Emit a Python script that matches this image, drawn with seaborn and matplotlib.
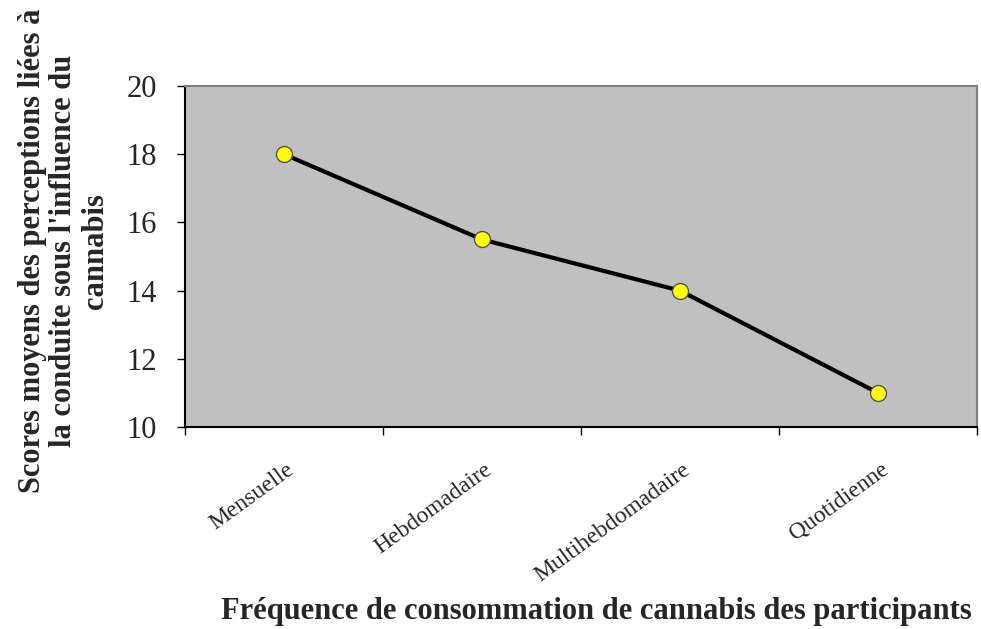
import numpy as np
import pandas as pd
import seaborn as sns
import matplotlib.pyplot as plt
import matplotlib.transforms as mtransforms
from matplotlib.ticker import FixedLocator

# data
categories = ["Mensuelle", "Hebdomadaire", "Multihebdomadaire", "Quotidienne"]
scores = [18.0, 15.5, 14.0, 11.0]
y_ticks = [10, 12, 14, 16, 18, 20]

df = pd.DataFrame({"freq": categories, "score": scores})

sns.set_style("white")
plt.rcParams["font.family"] = ["Liberation Serif", "DejaVu Serif"]

fig = plt.figure(figsize=(9.81, 6.29), dpi=100)
ax = fig.add_axes([0.1886, 0.3211, 0.8073, 0.5421])
ax.set_facecolor("#C0C0C0")

sns.lineplot(data=df, x="freq", y="score", ax=ax, color="black", linewidth=3,
             marker="o", markersize=11.5, markerfacecolor="#FFFF00",
             markeredgecolor="#555555", markeredgewidth=1, sort=False)

ax.set_xlim(-0.5, len(categories) - 0.5)
ax.set_ylim(10, 20)
ax.set_yticks(y_ticks)
ax.tick_params(axis="y", labelsize=22, length=6, width=1, color="black",
               direction="out", left=True, pad=14)

# Excel style: tick marks between categories, labels at the centres
ax.set_xticks(range(len(categories)))
ax.set_xticklabels(categories, rotation=36, ha="right", rotation_mode="anchor")
ax.tick_params(axis="x", which="major", length=0, labelsize=17, pad=23)
ax.xaxis.set_minor_locator(FixedLocator(np.arange(-0.5, len(categories), 1.0)))
ax.tick_params(axis="x", which="minor", length=6, width=1, color="black",
               direction="out", bottom=True)
offset = mtransforms.ScaledTranslation(0.02, 0, fig.dpi_scale_trans)
for lab in ax.get_xticklabels():
    lab.set_transform(lab.get_transform() + offset)

for side in ["left", "bottom"]:
    ax.spines[side].set_color("black")
    ax.spines[side].set_linewidth(1.5)
for side in ["top", "right"]:
    ax.spines[side].set_color("#808080")
    ax.spines[side].set_linewidth(1.5)

ax.set_xlabel("")
ax.set_ylabel("")

fig.text(0.608, 0.028, "Fréquence de consommation de cannabis des participants",
         ha="center", va="center", fontsize=22, fontweight="bold")
fig.text(0.065, 0.601,
         "Scores moyens des perceptions liées à\nla conduite sous l'influence du\ncannabis",
         ha="center", va="center", rotation=90, fontsize=22, fontweight="bold",
         linespacing=1.12)

fig.savefig("out.png", dpi=100)
